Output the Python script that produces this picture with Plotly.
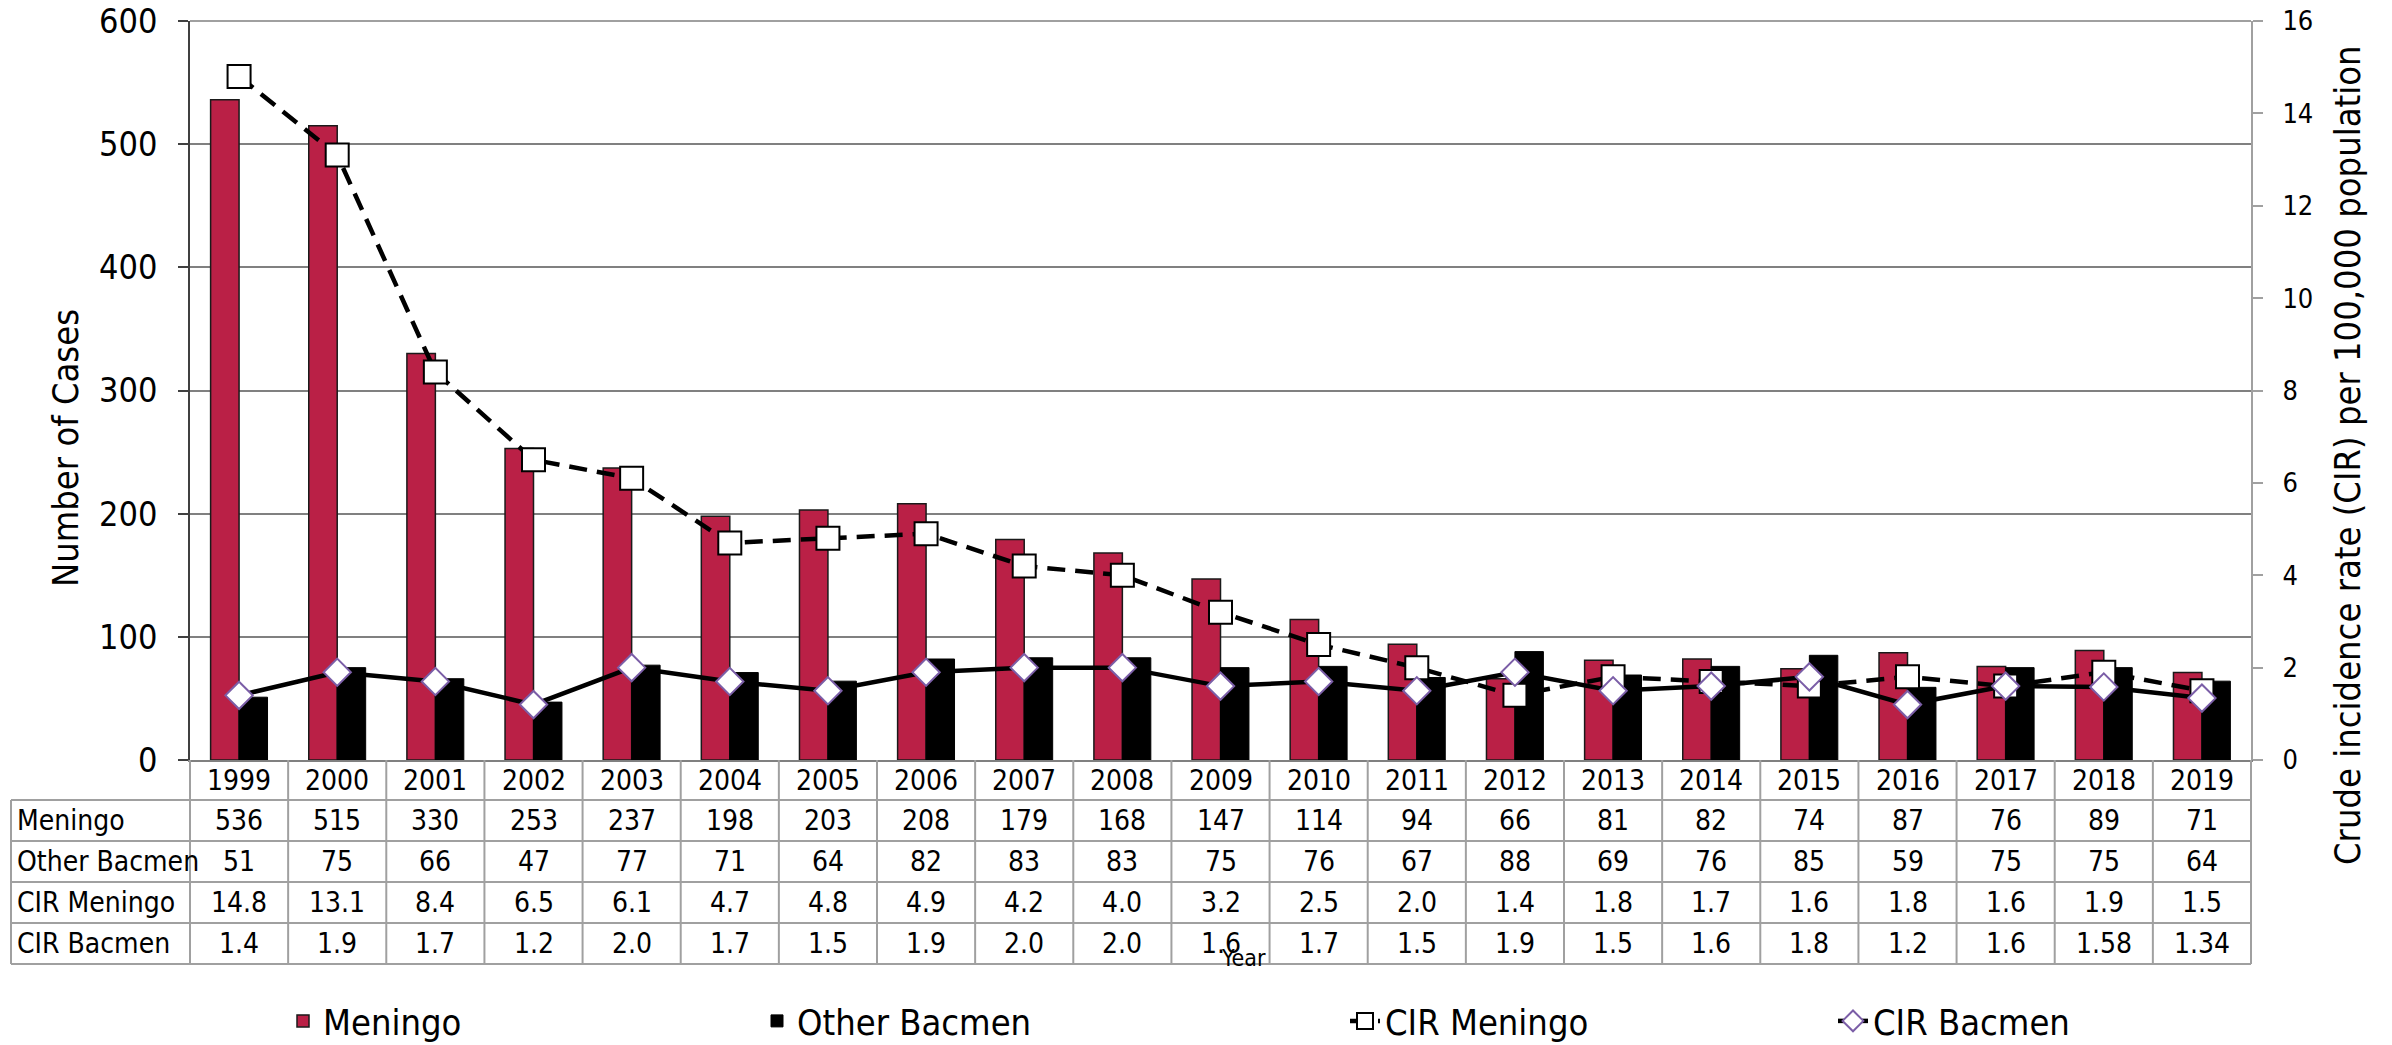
import plotly.graph_objects as go

years = [str(y) for y in range(1999, 2020)]
meningo = [536, 515, 330, 253, 237, 198, 203, 208, 179, 168, 147, 114, 94, 66, 81, 82, 74, 87, 76, 89, 71]
other_bacmen = [51, 75, 66, 47, 77, 71, 64, 82, 83, 83, 75, 76, 67, 88, 69, 76, 85, 59, 75, 75, 64]
cir_meningo = [14.8, 13.1, 8.4, 6.5, 6.1, 4.7, 4.8, 4.9, 4.2, 4.0, 3.2, 2.5, 2.0, 1.4, 1.8, 1.7, 1.6, 1.8, 1.6, 1.9, 1.5]
cir_bacmen = [1.4, 1.9, 1.7, 1.2, 2.0, 1.7, 1.5, 1.9, 2.0, 2.0, 1.6, 1.7, 1.5, 1.9, 1.5, 1.6, 1.8, 1.2, 1.6, 1.58, 1.34]
row_labels = ["Meningo", "Other Bacmen", "CIR Meningo", "CIR Bacmen"]

FONT = "DejaVu Sans Condensed, DejaVu Sans"
W, H = 2392, 1045
L, R, T, B = 190, 2251, 21, 760
PW, PH = R - L, B - T

def px_x(x):
    return (x - L) / PW

def px_y(y):
    return (B - y) / PH

def fmt(v):
    return f"{v:.2f}" if round(v, 1) != v else f"{v:.1f}"

fig = go.Figure()
fig.add_trace(go.Bar(x=years, y=meningo, name="Meningo", marker=dict(color="#BA2046", line=dict(color="#1a1a1a", width=1.5)), legend="legend"))
fig.add_trace(go.Bar(x=years, y=other_bacmen, name="Other Bacmen", marker=dict(color="#000000", line=dict(color="#000000", width=1)), legend="legend2"))
fig.add_trace(go.Scatter(x=years, y=cir_meningo, name="CIR Meningo", yaxis="y2", mode="lines+markers",
                         line=dict(color="black", width=4.5, dash="18px,10px"),
                         marker=dict(symbol="square", size=23, color="white", line=dict(color="black", width=2)), legend="legend3"))
fig.add_trace(go.Scatter(x=years, y=cir_bacmen, name="CIR Bacmen", yaxis="y2", mode="lines+markers",
                         line=dict(color="black", width=4.5),
                         marker=dict(symbol="diamond", size=21, color="white", line=dict(color="#7B5EA7", width=2)), legend="legend4"))

# data table under the plot
row_vals = [[str(v) for v in meningo], [str(v) for v in other_bacmen], [fmt(v) for v in cir_meningo], [fmt(v) for v in cir_bacmen]]
row_lines_px = [800, 841, 882, 923, 964]
year_center = (B + row_lines_px[0]) / 2
ann = []
tfont = dict(family=FONT, size=28, color="black")
for i, yr in enumerate(years):
    ann.append(dict(x=i, xref="x", y=px_y(year_center), yref="paper", text=yr, showarrow=False,
                    xanchor="center", yanchor="middle", font=tfont))
for r in range(4):
    yc = px_y((row_lines_px[r] + row_lines_px[r + 1]) / 2)
    ann.append(dict(x=px_x(15), xref="paper", y=yc, yref="paper", text=row_labels[r], showarrow=False,
                    xanchor="left", yanchor="middle", font=tfont))
    for i, yr in enumerate(years):
        ann.append(dict(x=i, xref="x", y=yc, yref="paper", text=row_vals[r][i], showarrow=False,
                        xanchor="center", yanchor="middle", font=tfont))

ann.append(dict(x=px_x(1243), xref="paper", y=px_y(958), yref="paper", text="Year", showarrow=False,
                xanchor="center", yanchor="middle", font=dict(family=FONT, size=23, color="black")))
ann.append(dict(x=px_x(65), xref="paper", y=px_y(448), yref="paper", text="Number of Cases", showarrow=False,
                xanchor="center", yanchor="middle", textangle=-90, font=dict(family=FONT, size=36, color="black")))
ann.append(dict(x=px_x(2347), xref="paper", y=px_y(455), yref="paper", text="Crude incidence rate (CIR) per 100,000 population",
                showarrow=False, xanchor="center", yanchor="middle", textangle=-90, font=dict(family=FONT, size=36, color="black")))

shapes = []
lc = dict(color="#a0a0a0", width=2)
n = len(years)
for k in range(n + 1):
    shapes.append(dict(type="line", xref="paper", yref="paper", x0=k / n, x1=k / n, y0=0, y1=px_y(row_lines_px[-1]), line=lc))
shapes.append(dict(type="line", xref="paper", yref="paper", x0=px_x(11), x1=px_x(11), y0=px_y(row_lines_px[0]), y1=px_y(row_lines_px[-1]), line=lc))
for yl in row_lines_px:
    shapes.append(dict(type="line", xref="paper", yref="paper", x0=px_x(11), x1=1, y0=px_y(yl), y1=px_y(yl), line=lc))
shapes.append(dict(type="line", xref="paper", yref="paper", x0=0, x1=1, y0=1, y1=1, line=dict(color="#808080", width=1.5)))

leg_font = dict(family=FONT, size=36, color="black")
leg_y = px_y(1021)
def leg(xpx):
    return dict(x=px_x(xpx), y=leg_y, xanchor="left", yanchor="middle", orientation="h",
                font=leg_font, bgcolor="rgba(0,0,0,0)", borderwidth=0)

fig.update_layout(
    width=W, height=H,
    margin=dict(l=L, r=W - R, t=T, b=H - B, autoexpand=False),
    showlegend=True,
    paper_bgcolor="white", plot_bgcolor="white",
    barmode="group", bargap=0.42, bargroupgap=0,
    font=dict(family=FONT, color="black"),
    xaxis=dict(type="category", range=[-0.5, n - 0.5], showticklabels=False, ticks="", showgrid=False,
               showline=True, linecolor="#808080", linewidth=2, zeroline=False),
    yaxis=dict(range=[0, 600], dtick=100, ticks="outside", ticklen=10, tickcolor="#404040", tickwidth=1.5,
               ticklabelstandoff=14,
               showline=True, linecolor="#404040", linewidth=1.5, showgrid=True, gridcolor="#808080", gridwidth=1.5,
               tickfont=dict(family=FONT, size=34, color="black"), zeroline=False, mirror=False),
    yaxis2=dict(range=[0, 16], dtick=2, overlaying="y", side="right", ticks="outside", ticklen=10,
                ticklabelstandoff=14,
                tickcolor="#a0a0a0", tickwidth=1.5, showline=True, linecolor="#a0a0a0", linewidth=2,
                showgrid=False, zeroline=False, tickfont=dict(family=FONT, size=27, color="black")),
    legend=leg(283), legend2=leg(757), legend3=leg(1345), legend4=leg(1833),
    annotations=ann, shapes=shapes,
)

fig.write_html("out.html", config={"displayModeBar": False},
               post_script="document.body.style.margin='0';document.body.style.overflow='hidden';")
